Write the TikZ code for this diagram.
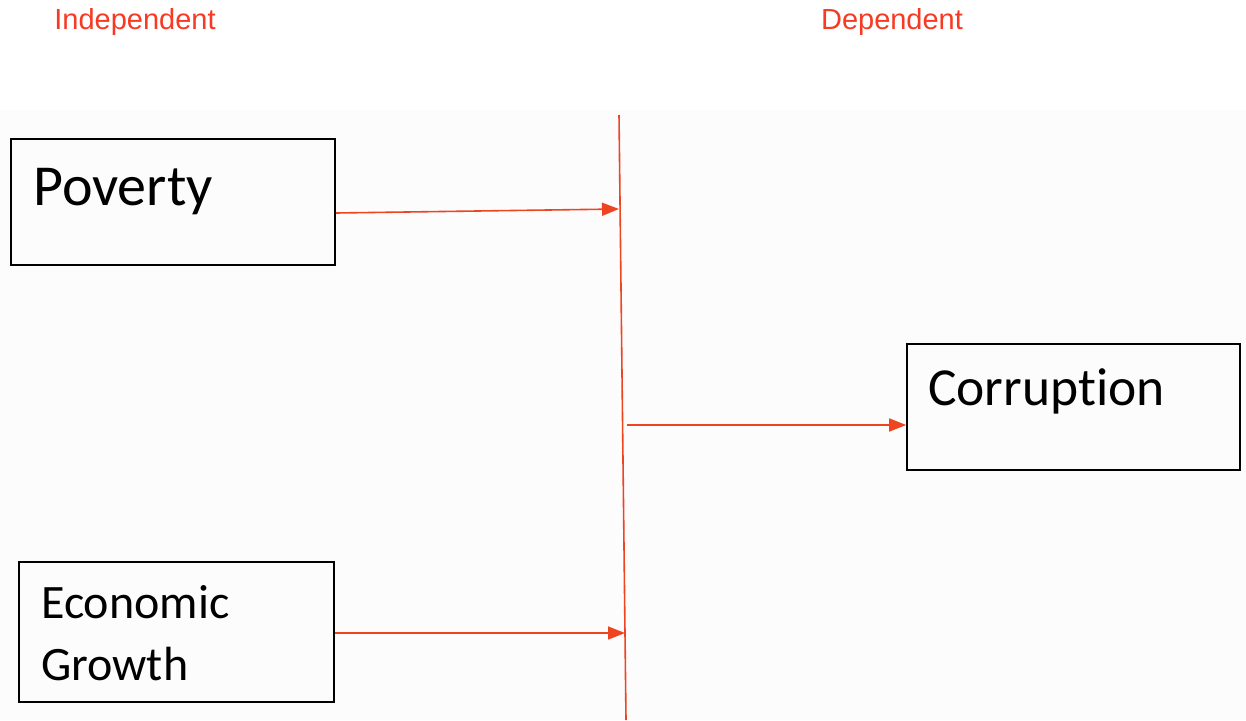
\documentclass[tikz,border=0pt]{standalone}
\usepackage{fontspec}
\setmainfont{Carlito}[Ligatures = NoCommon]
\newfontfamily\labelfont{Liberation Sans}
\usetikzlibrary{arrows.meta}

\definecolor{linkred}{RGB}{238,68,34}
\definecolor{headred}{RGB}{246,58,36}

\tikzset{
    varbox/.style   = {draw = black, line width = 1.6pt, inner sep = 0pt},
    vartext/.style  = {inner sep = 0pt, anchor = base west},
    headtext/.style = {text = headred, font = \labelfont\fontsize{29}{34}\selectfont, inner sep = 0pt},
    link/.style     = {draw = linkred, line width = 1.6pt},
    linkarrow/.style= {link, -{Triangle[length=17pt,width=13pt]}}
}

\begin{document}
\begin{tikzpicture}[x = 1pt, y = -1pt]
                \useasboundingbox [fill = white]                (0,0) rectangle (1246,720);
                \fill [black!1]                                 (0,110) rectangle (1246,720);

                \node [headtext] (indep) at (135,22) {Independent};
                \node [headtext] (dep)   at (892,22) {Dependent};

                \node [varbox, minimum width = 324pt, minimum height = 126pt] (poverty)    at (173,202) {};
                \node [varbox, minimum width = 333pt, minimum height = 126pt] (corruption) at (1073.5,407) {};
                \node [varbox, minimum width = 315pt, minimum height = 140pt] (growth)     at (176.5,632) {};

                \node [vartext, font = \fontsize{58}{62}\selectfont] (povertytext)    at (33,205)  {Poverty};
                \node [vartext, font = \fontsize{53.5}{62}\selectfont] (corruptiontext) at (928,405) {Corruption};
                \node [vartext, font = \fontsize{48}{62}\selectfont] (economictext)   at (41,618)  {Economic};
                \node [vartext, font = \fontsize{48}{62}\selectfont] (growthtext)     at (41,680)  {Growth};

                \coordinate (bartop) at (619,115);
                \coordinate (barbot) at (626,720);
                \coordinate (barA)   at (619,209);
                \coordinate (barB)   at (627,425);
                \coordinate (barC)   at (625,633);

                \draw [link]      (bartop) -- (barbot);

                \draw [linkarrow] (poverty.east |- 0,213) -- (barA);
                \draw [linkarrow] (growth.east  |- 0,633) -- (barC);
                \draw [linkarrow] (barB) -- (barB -| corruption.west);
            \end{tikzpicture}
\end{document}
